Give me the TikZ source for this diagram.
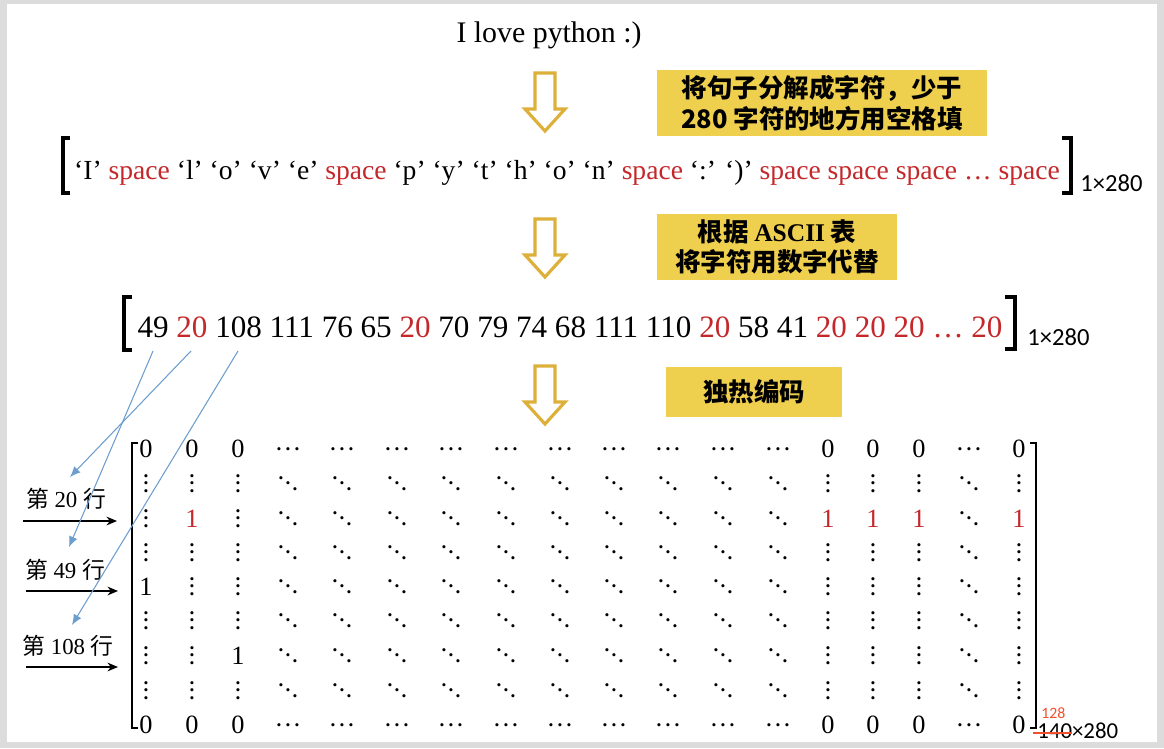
\documentclass[tikz,border=0pt]{standalone}
\usepackage{fontspec}
\setmainfont{Liberation Serif}
\newfontfamily\cjk{Noto Sans CJK SC}
\newfontfamily\sans{Carlito}
\usetikzlibrary{arrows.meta}
\definecolor{boxyellow}{HTML}{EFCF4E}
\definecolor{arrowgold}{HTML}{DDB03A}
\definecolor{spacered}{HTML}{C4282B}
\definecolor{linkblue}{HTML}{6D9ECE}
\definecolor{framegray}{HTML}{DCDCDC}
\definecolor{notered}{HTML}{F0502D}
\newcommand\rd[1]{\textcolor{spacered}{#1}}
\newcommand\dotfont{\fontsize{11}{13}\selectfont\bfseries}
\newcommand\cellz{0}
\newcommand\cello{1}
\newcommand\cellr{\textcolor{spacered}{1}}
\newcommand\cellc{\raisebox{3.8pt}{\dotfont.\kern2.4pt.\kern2.4pt.}}
\newcommand\cellv{{\dotfont$\vdots$}}
\newcommand\celld{{\dotfont$\ddots$}}
\begin{document}
\begin{tikzpicture}[x=0.02cm, y=-0.02cm, >=Stealth,
  ybox/.style={fill=boxyellow, inner sep=0pt, align=center, font=\cjk\bfseries\fontsize{14.5}{17.5}\selectfont},
  hollow/.pic={\draw[line width=1.8pt, arrowgold, fill=white] (-10,0) -- (10,0) -- (10,36) -- (20,36) -- (0,58) -- (-20,36) -- (-10,36) -- cycle;},
  brak/.style={line width=2.2pt},
  cell/.style={anchor=base, inner sep=0pt, text height=10pt, text depth=0pt, font=\fontsize{15}{18}\selectfont},
  rowlab/.style={anchor=base, inner sep=0pt, font=\fontsize{13}{15}\selectfont},
  dimlab/.style={anchor=base west, inner sep=0pt, font=\sans\fontsize{14}{16}\selectfont},
  link/.style={linkblue, line width=0.6pt, -{Latex[length=6pt,width=5pt]}},
  rowarrow/.style={line width=0.8pt, -{Stealth[length=6pt,width=5pt]}}]
\fill[framegray] (0,0) rectangle (1164,748);
\fill[white] (7,4) rectangle (1157,742);

\node[anchor=base, font=\fontsize{17}{20}\selectfont] (title) at (549,42) {I love python :)};
\node[anchor=base, inner sep=0pt, font=\fontsize{15.7}{18}\selectfont] (chars) at (567,179)
  {‘I’ \rd{space} ‘l’ ‘o’ ‘v’ ‘e’ \rd{space} ‘p’ ‘y’ ‘t’ ‘h’ ‘o’ ‘n’ \rd{space} ‘:’ ‘)’ \rd{space space space … space}};
\node[anchor=base, inner sep=0pt, font=\fontsize{17.7}{20}\selectfont] (codes) at (570,337)
  {49 \rd{20} 108 111 76 65 \rd{20} 70 79 74 68 111 110 \rd{20} 58 41 \rd{20 20 20 … 20}};
\draw[brak] (70,138) -- (63,138) -- (63,193) -- (70,193);
\draw[brak] (1062,138) -- (1071,138) -- (1071,193) -- (1062,193);
\draw[brak] (132,297) -- (124,297) -- (124,350) -- (132,350);
\draw[brak] (1005,297) -- (1015,297) -- (1015,349) -- (1005,349);
\node[dimlab] (dim1) at (1080,191) {1×280};
\node[dimlab] (dim2) at (1027,345) {1×280};

\pic (arr1) at (545,73) {hollow};
\pic (arr2) at (545,219) {hollow};
\pic (arr3) at (545,366) {hollow};
\node[ybox, minimum width=6.62cm, minimum height=1.32cm] (split) at (822,103) {将句子分解成字符，少于\\280 字符的地方用空格填};
\node[ybox, minimum width=4.82cm, minimum height=1.32cm] (ascii) at (777,247) {根据 {\rmfamily ASCII} 表\\将字符用数字代替};
\node[ybox, minimum width=3.54cm, minimum height=1.0cm] (onehot) at (754,392) {独热编码};

\foreach \y/\cells [count=\r] in {
  448/{z,z,z,c,c,c,c,c,c,c,c,c,c,z,z,z,c,z},
  483/{v,v,v,d,d,d,d,d,d,d,d,d,d,v,v,v,d,v},
  518/{v,r,v,d,d,d,d,d,d,d,d,d,d,r,r,r,d,r},
  552/{v,v,v,d,d,d,d,d,d,d,d,d,d,v,v,v,d,v},
  586/{o,v,v,d,d,d,d,d,d,d,d,d,d,v,v,v,d,v},
  620/{v,v,v,d,d,d,d,d,d,d,d,d,d,v,v,v,d,v},
  655/{v,v,o,d,d,d,d,d,d,d,d,d,d,v,v,v,d,v},
  690/{v,v,v,d,d,d,d,d,d,d,d,d,d,v,v,v,d,v},
  724/{z,z,z,c,c,c,c,c,c,c,c,c,c,z,z,z,c,z}}
  \foreach \k [count=\c] in \cells {
    \pgfmathsetmacro\xx{{146,192,238,288,342,397,451,506,560,614,668,723,778,828,873,919,969,1019}[\c-1]}
    \node[cell] (m-\r-\c) at (\xx,\y+9) {\csname cell\k\endcsname};
  };
\draw[line width=1.6pt] (138,443) -- (132,443) -- (132,728) -- (138,728);
\draw[line width=1.6pt] (1030,443) -- (1036,443) -- (1036,728) -- (1030,728);
\node[anchor=base west, inner sep=0pt, text=notered, font=\sans\fontsize{9}{10}\selectfont] (fix) at (1041,718) {128};
\node[dimlab, font=\sans\fontsize{13}{15}\selectfont] (dim3) at (1037,738) {140×280};
\coordinate (cut1) at (1033,733);
\coordinate (cut2) at (1072,733);
\draw[notered, line width=0.7pt] (cut1) -- (cut2);

\node[rowlab] (l20) at (66,507) {{\cjk 第} 20 {\cjk 行}};
\node[rowlab] (l49) at (65,578) {{\cjk 第} 49 {\cjk 行}};
\node[rowlab] (l108) at (68,654) {{\cjk 第} 108 {\cjk 行}};
\coordinate (a20) at (23,521);  \coordinate (b20) at (117,521);
\coordinate (a49) at (26,591);  \coordinate (b49) at (118,591);
\coordinate (a108) at (26,667); \coordinate (b108) at (118,667);
\draw[rowarrow] (a20) -- (b20);
\draw[rowarrow] (a49) -- (b49);
\draw[rowarrow] (a108) -- (b108);

\coordinate (n49) at (153,351);  \coordinate (t49) at (69,547);
\coordinate (n20) at (191,351);  \coordinate (t20) at (70,477);
\coordinate (n108) at (238,351); \coordinate (t108) at (72,625);
\draw[link] (n49) -- (t49);
\draw[link] (n20) -- (t20);
\draw[link] (n108) -- (t108);
\end{tikzpicture}
\end{document}
